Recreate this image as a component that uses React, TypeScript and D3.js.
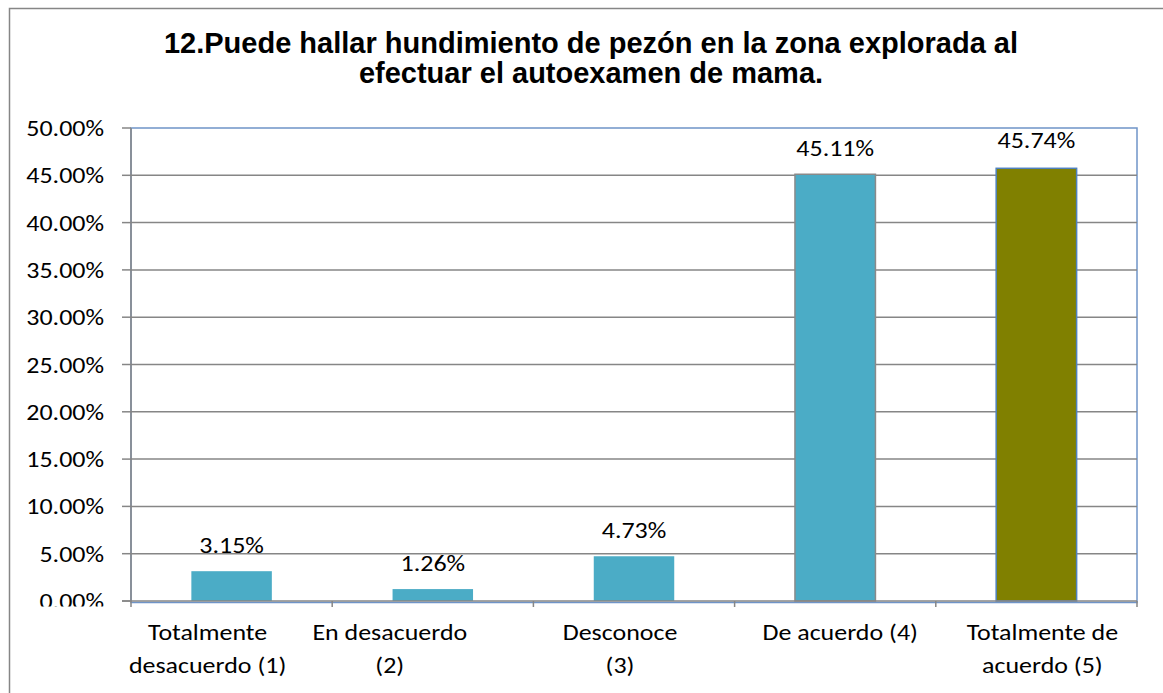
import React from "react";
import * as d3 from "d3";

const titleLines = [
  "12.Puede hallar hundimiento de pezón en la zona explorada al",
  "efectuar el autoexamen de mama.",
];
const categories = [
  ["Totalmente", "desacuerdo (1)"],
  ["En desacuerdo", "(2)"],
  ["Desconoce", "(3)"],
  ["De acuerdo (4)"],
  ["Totalmente de", "acuerdo (5)"],
];
const values = [3.15, 1.26, 4.73, 45.11, 45.74];
const valueLabels = ["3.15%", "1.26%", "4.73%", "45.11%", "45.74%"];
const yTicks = [0, 5, 10, 15, 20, 25, 30, 35, 40, 45, 50];

// layout / style constants (not data)
const W = 1163;
const H = 693;
const plot = { left: 131, right: 1137, top: 128, bottom: 601 };
const barFill = ["#4BACC6", "#4BACC6", "#4BACC6", "#4BACC6", "#808000"];
const barStroke = ["none", "none", "none", "#8A8A8A", "#4F81BD"];
const labelShift = [-24, -43, -14, 5, 6];
const bodyFont = "Carlito, Lato, 'Open Sans', sans-serif";
const SX = 1.18;

function BodyText({ x, y, anchor, children }: { x: number; y: number; anchor: string; children: React.ReactNode }) {
  return (
    <text
      transform={`translate(${x},${y}) scale(${SX},1)`}
      textAnchor={anchor}
      fontFamily={bodyFont}
      fontSize={22}
      fill="#000"
    >
      {children}
    </text>
  );
}

export default function App() {
  const x = d3
    .scaleBand<number>()
    .domain(d3.range(values.length))
    .range([plot.left, plot.right])
    .paddingInner(0.6)
    .paddingOuter(0.3);
  const step = (plot.right - plot.left) / values.length;
  const y = d3.scaleLinear().domain([0, 50]).range([plot.bottom, plot.top]);
  const fmt = (v: number) => d3.format(".2f")(v) + "%";

  return (
    <svg
      width={W}
      height={H}
      style={{ position: "absolute", left: 0, top: 0, display: "block", background: "#fff" }}
    >
      <defs>
        <clipPath id="ylab">
          <rect x={0} y={0} width={plot.left} height={606.5} />
        </clipPath>
      </defs>
      <rect x={0} y={0} width={W} height={H} fill="#fff" />
      {/* outer chart border */}
      <rect x={9.5} y={8.5} width={W + 20} height={H + 20} fill="none" stroke="#868686" strokeWidth={1.5} />

      {/* title */}
      {titleLines.map((t, i) => (
        <text
          key={i}
          x={591}
          y={53 + i * 30}
          textAnchor="middle"
          fontFamily="'Liberation Sans', Arial, sans-serif"
          fontWeight="bold"
          fontSize={29}
          fill="#000"
        >
          {t}
        </text>
      ))}

      {/* plot area border */}
      <rect
        x={plot.left}
        y={plot.top}
        width={plot.right - plot.left}
        height={plot.bottom - plot.top + 1.5}
        fill="none"
        stroke="#6F94C8"
        strokeWidth={1.5}
      />

      {/* gridlines */}
      {yTicks.slice(1, -1).map((t) => (
        <line key={t} x1={plot.left} x2={plot.right} y1={y(t)} y2={y(t)} stroke="#868686" strokeWidth={1.5} />
      ))}

      {/* y ticks and labels */}
      {yTicks.map((t) => (
        <line key={"yt" + t} x1={plot.left - 9} x2={plot.left} y1={y(t)} y2={y(t)} stroke="#868686" strokeWidth={1.5} />
      ))}
      <g clipPath="url(#ylab)">
        {yTicks.map((t) => (
          <BodyText key={"yl" + t} x={104} y={y(t) + 8} anchor="end">
            {fmt(t)}
          </BodyText>
        ))}
      </g>

      {/* bars */}
      {values.map((v, i) => (
        <rect
          key={"b" + i}
          x={x(i)!}
          y={y(v)}
          width={x.bandwidth()}
          height={y(0) - y(v)}
          fill={barFill[i]}
          stroke={barStroke[i]}
          strokeWidth={1.5}
        />
      ))}

      {/* axes */}
      <line x1={plot.left} x2={plot.left} y1={plot.top} y2={plot.bottom} stroke="#868686" strokeWidth={1.5} />
      <line x1={plot.left - 9} x2={plot.right} y1={plot.bottom} y2={plot.bottom} stroke="#868686" strokeWidth={1.5} />
      {d3.range(values.length + 1).map((k) => (
        <line
          key={"xt" + k}
          x1={plot.left + k * step}
          x2={plot.left + k * step}
          y1={plot.bottom}
          y2={plot.bottom + 6}
          stroke="#868686"
          strokeWidth={1.5}
        />
      ))}

      {/* value labels */}
      {values.map((v, i) => (
        <BodyText key={"vl" + i} x={x(i)! + x.bandwidth() / 2} y={y(v) - (i === 4 ? 20 : 18)} anchor="middle">
          {valueLabels[i]}
        </BodyText>
      ))}

      {/* category labels */}
      {categories.map((lines, i) =>
        lines.map((ln, j) => (
          <BodyText
            key={"cl" + i + "-" + j}
            x={x(i)! + x.bandwidth() / 2 + labelShift[i]}
            y={640 + j * 33}
            anchor="middle"
          >
            {ln}
          </BodyText>
        ))
      )}
    </svg>
  );
}
